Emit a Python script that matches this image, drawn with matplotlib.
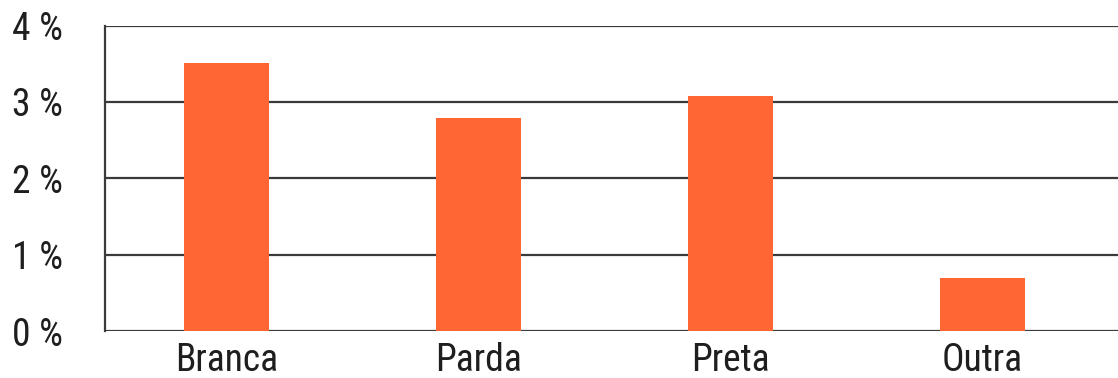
import matplotlib
matplotlib.use("Agg")
import matplotlib.pyplot as plt
from matplotlib import font_manager

categories = ["Branca", "Parda", "Preta", "Outra"]
values = [3.51, 2.79, 3.08, 0.70]
yticks = [0, 1, 2, 3, 4]
ytick_labels = ["0 %", "1 %", "2 %", "3 %", "4 %"]

# pick a condensed / narrow font if one is installed
cond = [f for f in font_manager.fontManager.ttflist
        if ("ondensed" in f.fname or "arrow" in f.fname)
        and "Italic" not in f.fname and "Oblique" not in f.fname and "Mono" not in f.fname
        and "Serif" not in f.fname and "Bold" not in f.fname and "Black" not in f.fname
        and "Light" not in f.fname and "Thin" not in f.fname and "Medium" not in f.fname]

def score(f):
    n = f.fname
    return (("Roboto" not in n), ("Regular" not in n), n)

if cond:
    cond.sort(key=score)
    fp = font_manager.FontProperties(fname=cond[0].fname, size=27)
else:
    fp = font_manager.FontProperties(family=["DejaVu Sans"], size=22)

fig = plt.figure(figsize=(11.18, 3.78), dpi=100)
ax = fig.add_axes([105/1118, 1 - 331/378, 1 - 105/1118, (331 - 25.5)/378])

x = list(range(len(categories)))
ax.bar(x, values, width=0.34, color="#FF6633", zorder=3)

ax.set_xlim(-0.482, 3.538)
ax.set_ylim(0, 4)
ax.set_yticks(yticks)
ax.set_xticks(x)
ax.set_yticklabels(ytick_labels, fontproperties=fp, color="#1e1e1e")
ax.set_xticklabels(categories, fontproperties=fp, color="#1e1e1e")

ax.yaxis.grid(True, color="#3a3a3a", linewidth=1.6, zorder=1)
ax.set_axisbelow(True)
for s in ["top", "right", "bottom"]:
    ax.spines[s].set_visible(False)
ax.spines["left"].set_color("#3a3a3a")
ax.spines["left"].set_linewidth(1.6)

ax.tick_params(axis="y", length=0, pad=30)
ax.tick_params(axis="x", length=0, pad=8)

fig.savefig("out.png", dpi=100, facecolor="white")
